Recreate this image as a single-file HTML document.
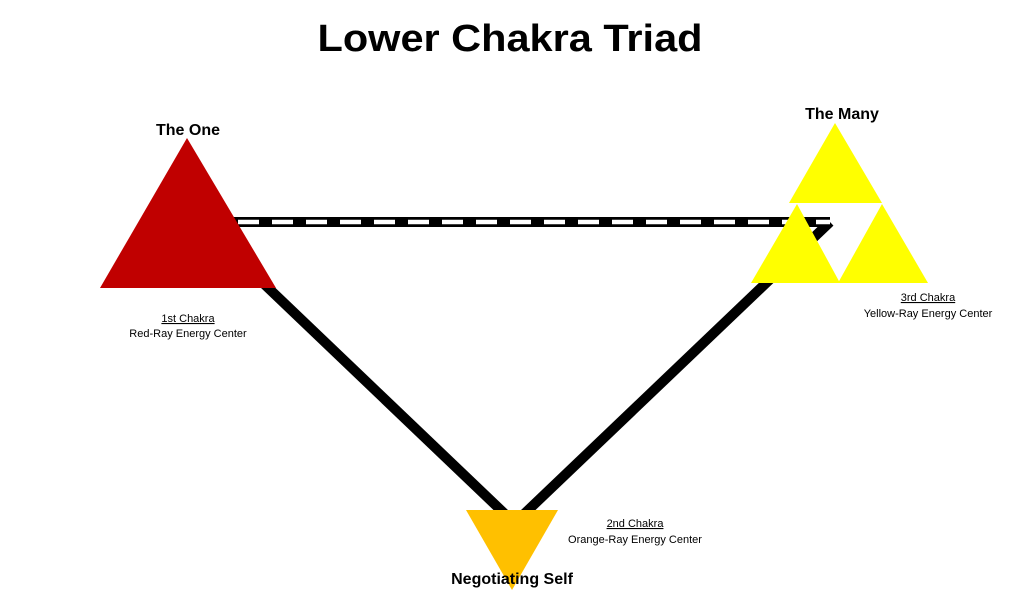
<!DOCTYPE html>
<html><head><style>
body{margin:0;background:#fff;}
svg text{font-family:"Liberation Sans",sans-serif;}
</style></head><body>
<svg width="1023" height="590" viewBox="0 0 1023 590" xmlns="http://www.w3.org/2000/svg">
<rect width="1023" height="590" fill="#fff"/>
<text x="510" y="51" font-size="38" font-weight="bold" text-anchor="middle" textLength="385" lengthAdjust="spacingAndGlyphs">Lower Chakra Triad</text>
<line x1="262" y1="282" x2="507" y2="516" stroke="#000" stroke-width="10"/>
<line x1="830" y1="222" x2="522" y2="516" stroke="#000" stroke-width="10"/>
<rect x="232" y="217" width="598" height="10" fill="#000"/>
<line x1="238" y1="222" x2="830" y2="222" stroke="#fff" stroke-width="4.5" stroke-dasharray="21,13"/>
<polygon points="187,138 100,288 276,288" fill="#c00000"/>
<polygon points="835,123 789,203 882,203" fill="#ffff00"/>
<polygon points="797,204 751,283 840,283" fill="#ffff00"/>
<polygon points="882,204 838,283 928,283" fill="#ffff00"/>
<polygon points="466,510 558,510 512,590" fill="#ffc000"/>
<text x="188" y="135" font-size="16" font-weight="bold" text-anchor="middle">The One</text>
<text x="842" y="119" font-size="16" font-weight="bold" text-anchor="middle">The Many</text>
<text x="512" y="584" font-size="16" font-weight="bold" text-anchor="middle">Negotiating Self</text>
<text x="188" y="322" font-size="11" text-anchor="middle" text-decoration="underline">1st Chakra</text>
<text x="188" y="337" font-size="11" text-anchor="middle">Red-Ray Energy Center</text>
<text x="928" y="301" font-size="11" text-anchor="middle" text-decoration="underline">3rd Chakra</text>
<text x="928" y="317" font-size="11" text-anchor="middle">Yellow-Ray  Energy Center</text>
<text x="635" y="527" font-size="11" text-anchor="middle" text-decoration="underline">2nd Chakra</text>
<text x="635" y="543" font-size="11" text-anchor="middle">Orange-Ray  Energy Center</text>
</svg>
</body></html>
